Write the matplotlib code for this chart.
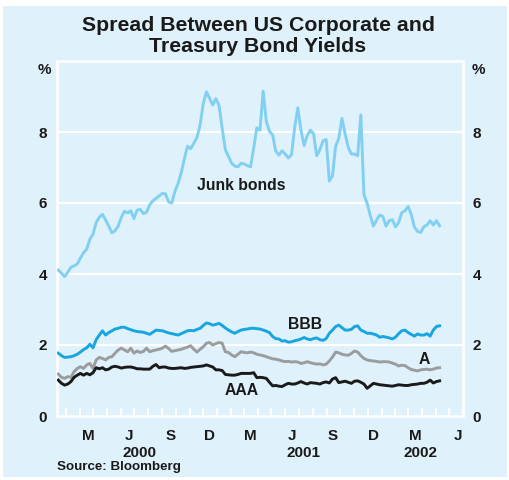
import matplotlib
matplotlib.use("Agg")
import matplotlib.pyplot as plt
import matplotlib.dates as mdates
from matplotlib.patches import Rectangle
import pandas as pd

plt.rcParams['font.family'] = ['Liberation Sans', 'DejaVu Sans']

dates = pd.date_range('2000-01-14', '2002-05-10', freq='W-FRI')

junk = [4.11, 4.02, 3.93, 4.05, 4.19, 4.23, 4.28, 4.45, 4.60, 4.70,
        4.98, 5.12, 5.45, 5.60, 5.68, 5.52, 5.35, 5.16, 5.22, 5.35,
        5.60, 5.77, 5.72, 5.78, 5.56, 5.80, 5.82, 5.70, 5.74, 5.95,
        6.06, 6.13, 6.20, 6.27, 6.26, 6.03, 6.00, 6.33, 6.55, 6.85,
        7.25, 7.60, 7.53, 7.68, 7.85, 8.20, 8.80, 9.13, 8.95, 8.76,
        8.94, 8.75, 8.10, 7.50, 7.31, 7.12, 7.04, 7.02, 7.12, 7.10,
        7.05, 7.02, 7.55, 8.12, 8.05, 9.15, 8.30, 8.02, 7.92, 7.46,
        7.35, 7.47, 7.38, 7.27, 7.36, 8.12, 8.68, 8.05, 7.62, 7.90,
        8.05, 7.95, 7.33, 7.50, 7.75, 7.79, 6.62, 6.76, 7.60, 7.82,
        8.38, 7.95, 7.57, 7.38, 7.38, 7.33, 8.48, 6.23, 5.99, 5.65,
        5.35, 5.52, 5.66, 5.62, 5.35, 5.50, 5.53, 5.33, 5.45, 5.73,
        5.78, 5.90, 5.68, 5.32, 5.20, 5.17, 5.33, 5.38, 5.50, 5.38,
        5.50, 5.36]

bbb = [1.77, 1.70, 1.65, 1.66, 1.67, 1.70, 1.74, 1.80, 1.87, 1.92,
       2.02, 1.92, 2.15, 2.28, 2.40, 2.28, 2.35, 2.40, 2.45, 2.47,
       2.50, 2.50, 2.46, 2.43, 2.40, 2.38, 2.37, 2.36, 2.33, 2.30,
       2.36, 2.42, 2.41, 2.40, 2.37, 2.34, 2.32, 2.30, 2.28, 2.32,
       2.36, 2.40, 2.41, 2.40, 2.44, 2.47, 2.55, 2.62, 2.60, 2.56,
       2.58, 2.61, 2.55, 2.48, 2.42, 2.37, 2.33, 2.38, 2.42, 2.44,
       2.45, 2.47, 2.47, 2.46, 2.45, 2.42, 2.39, 2.35, 2.24, 2.18,
       2.17, 2.11, 2.12, 2.08, 2.09, 2.12, 2.14, 2.17, 2.21, 2.17,
       2.15, 2.18, 2.20, 2.15, 2.13, 2.18, 2.33, 2.42, 2.52, 2.56,
       2.49, 2.42, 2.42, 2.44, 2.52, 2.54, 2.42, 2.38, 2.33, 2.33,
       2.31, 2.28, 2.22, 2.24, 2.22, 2.20, 2.17, 2.22, 2.32, 2.40,
       2.42, 2.35, 2.30, 2.25, 2.31, 2.28, 2.28, 2.32, 2.25, 2.42,
       2.52, 2.54]

a_rated = [1.18, 1.09, 1.06, 1.11, 1.09, 1.25, 1.34, 1.39, 1.34, 1.44,
           1.48, 1.34, 1.58, 1.65, 1.62, 1.58, 1.65, 1.67, 1.77, 1.86,
           1.91, 1.86, 1.81, 1.91, 1.77, 1.83, 1.79, 1.82, 1.91, 1.81,
           1.84, 1.86, 1.88, 1.91, 1.97, 1.90, 1.82, 1.84, 1.86, 1.88,
           1.91, 1.94, 1.98, 1.88, 1.80, 1.88, 1.95, 2.05, 2.07, 2.00,
           2.04, 2.07, 2.05, 1.81, 1.79, 1.72, 1.67, 1.74, 1.81, 1.79,
           1.78, 1.80, 1.78, 1.74, 1.72, 1.70, 1.67, 1.64, 1.61, 1.60,
           1.58, 1.55, 1.53, 1.54, 1.52, 1.53, 1.52, 1.48, 1.50, 1.53,
           1.50, 1.48, 1.46, 1.47, 1.44, 1.46, 1.55, 1.66, 1.80, 1.78,
           1.74, 1.72, 1.71, 1.76, 1.83, 1.80, 1.70, 1.62, 1.58, 1.56,
           1.55, 1.54, 1.52, 1.53, 1.53, 1.52, 1.49, 1.46, 1.41, 1.43,
           1.42, 1.36, 1.31, 1.29, 1.27, 1.30, 1.31, 1.32, 1.30, 1.32,
           1.35, 1.36]

aaa = [1.01, 0.92, 0.87, 0.90, 0.97, 1.09, 1.15, 1.20, 1.15, 1.20,
       1.16, 1.22, 1.36, 1.33, 1.36, 1.30, 1.32, 1.38, 1.40, 1.38,
       1.35, 1.37, 1.38, 1.38, 1.36, 1.33, 1.33, 1.32, 1.32, 1.32,
       1.40, 1.45, 1.36, 1.38, 1.38, 1.35, 1.34, 1.34, 1.35, 1.36,
       1.34, 1.35, 1.37, 1.38, 1.39, 1.40, 1.41, 1.44, 1.41, 1.38,
       1.30, 1.30, 1.28, 1.17, 1.16, 1.15, 1.15, 1.17, 1.20, 1.20,
       1.20, 1.20, 1.22, 1.08, 1.09, 1.08, 1.06, 0.95, 0.85, 0.86,
       0.84, 0.83, 0.88, 0.92, 0.90, 0.90, 0.93, 0.97, 0.93, 0.90,
       0.94, 0.93, 0.92, 0.90, 0.94, 0.96, 0.93, 1.04, 1.08, 0.94,
       0.96, 0.98, 0.95, 0.92, 0.98, 0.99, 0.95, 0.90, 0.78, 0.85,
       0.92, 0.90, 0.88, 0.87, 0.86, 0.85, 0.84, 0.86, 0.88, 0.87,
       0.86, 0.86, 0.88, 0.89, 0.90, 0.92, 0.92, 0.95, 1.01, 0.93,
       0.97, 0.99]

month_labels = ['M', 'J', 'S', 'D', 'M', 'J', 'S', 'D', 'M', 'J']
month_label_dates = pd.to_datetime(['2000-03-20', '2000-06-20', '2000-09-20', '2000-12-15',
                                    '2001-03-15', '2001-06-15', '2001-09-15', '2001-12-15',
                                    '2002-03-18', '2002-06-20'])
years = ['2000', '2001', '2002']
year_dates = pd.to_datetime(['2000-07-12', '2001-07-12', '2002-03-28'])
yticks = [0, 2, 4, 6, 8]

BG = '#dff1fa'
fig = plt.figure(figsize=(5.1, 4.8), dpi=100, facecolor='white')
fig.patches.append(Rectangle((3/510, 3/480), 504/510, 471/480, transform=fig.transFigure,
                             facecolor=BG, edgecolor='none', zorder=-10))

ax = fig.add_axes([57/510, 64/480, 406/510, 355/480])
ax.set_facecolor(BG)

ax.plot(dates, junk, color='#82d0f1', lw=2.1, zorder=3)
ax.plot(dates, bbb, color='#18a5e0', lw=2.1, zorder=3)
ax.plot(dates, a_rated, color='#9a9c9e', lw=2.1, zorder=3)
ax.plot(dates, aaa, color='#1a1a1a', lw=2.1, zorder=3)

ax.set_ylim(0, 10)
ax.set_xlim(pd.Timestamp('2000-01-11'), pd.Timestamp('2002-07-01'))

for y in [2, 4, 6, 8]:
    ax.axhline(y, color='white', lw=1.6, zorder=1)
for s in ax.spines.values():
    s.set_color('white')
    s.set_linewidth(1.8)

ax.set_yticks(yticks)
ax.set_yticklabels([str(v) for v in yticks])
ax.tick_params(axis='y', length=0, pad=7, labelsize=11, left=False, right=False,
               labelleft=True, labelright=True, colors='#1a1a1a')
for lab in ax.get_yticklabels():
    lab.set_fontweight('bold')

ax.xaxis.set_minor_locator(mdates.MonthLocator())
ax.set_xticks(month_label_dates)
ax.set_xticklabels(month_labels)
ax.tick_params(axis='x', which='major', length=0, pad=9, labelsize=11, colors='#1a1a1a')
ax.tick_params(axis='x', which='minor', direction='in', length=6, width=1.5, color='white')
for lab in ax.get_xticklabels():
    lab.set_fontweight('bold')

for yr, d in zip(years, year_dates):
    ax.text(d, -1.03, yr, ha='center', va='center', fontsize=11, fontweight='bold',
            color='#1a1a1a', clip_on=False)

ax.text(-0.015, 0.975, '%', transform=ax.transAxes, ha='right', va='center',
        fontsize=11, fontweight='bold', color='#1a1a1a')
ax.text(1.022, 0.975, '%', transform=ax.transAxes, ha='left', va='center',
        fontsize=11, fontweight='bold', color='#1a1a1a')

lab_kw = dict(fontsize=11.3, fontweight='bold', color='#1a1a1a', ha='center', va='center', zorder=4)
ax.text(pd.Timestamp('2001-02-24'), 6.5, 'Junk bonds', **lab_kw)
ax.text(pd.Timestamp('2001-07-15'), 2.58, 'BBB', **lab_kw)
ax.text(pd.Timestamp('2002-04-05'), 1.6, 'A', **lab_kw)
ax.text(pd.Timestamp('2001-02-24'), 0.73, 'AAA', **lab_kw)

fig.text(0.506, 1 - 36/480, 'Spread Between US Corporate and\nTreasury Bond Yields', ha='center',
         va='center', fontsize=15.3, fontweight='bold', color='#1a1a1a', linespacing=1.1)
fig.text(57/510, 1 - 467/480, 'Source: Bloomberg', ha='left', va='center', fontsize=9.6,
         fontweight='bold', color='#1a1a1a')

fig.savefig('out.png', dpi=100, facecolor='white')
